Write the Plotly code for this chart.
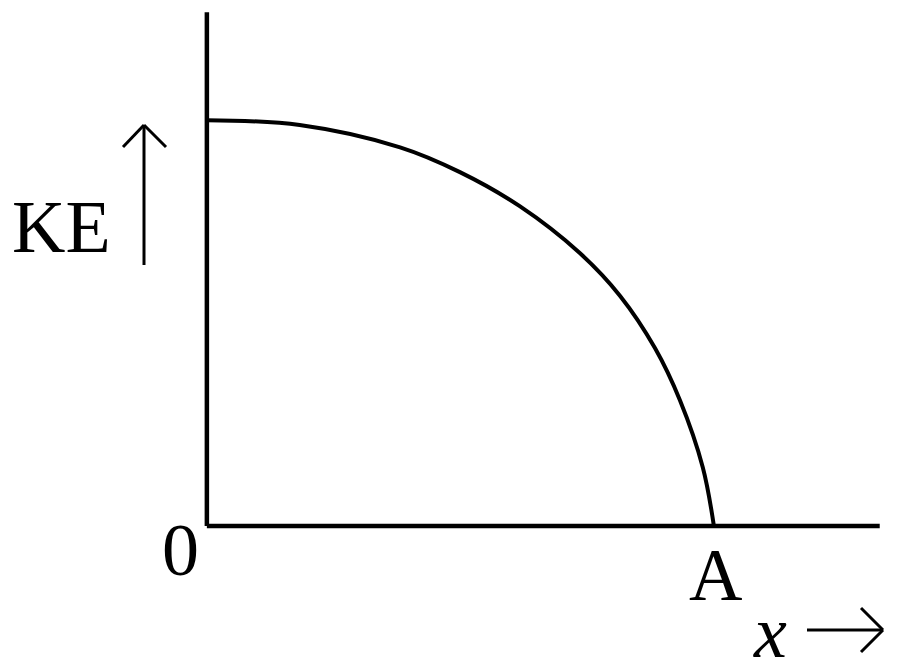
import plotly.graph_objects as go

# Curve data (x in units of A, KE in units of KE_max)
x_vals = [0.0, 0.183, 0.381, 0.499, 0.617, 0.736, 0.815, 0.884, 0.933, 0.978, 1.0]
ke_vals = [1.0, 0.988, 0.933, 0.872, 0.788, 0.672, 0.567, 0.438, 0.310, 0.145, 0.0]

origin_label = "0"
end_label = "A"
y_label = "KE"
x_label = "x"

W, H = 900, 671

def px(xp):
    return xp / W

def py(yp):
    return 1 - yp / H

fig = go.Figure()
fig.add_trace(go.Scatter(
    x=x_vals, y=ke_vals, mode="lines",
    line=dict(color="black", width=4, shape="spline", smoothing=1.0),
    hoverinfo="skip", showlegend=False,
))

line = dict(color="black", width=4.5)
thin = dict(color="black", width=3)
shapes = [
    # vertical axis
    dict(type="line", xref="x", yref="y", x0=0, x1=0, y0=0, y1=1.266, line=line),
    # horizontal axis
    dict(type="line", xref="x", yref="y", x0=0, x1=1.327, y0=0, y1=0, line=line),
    # up arrow next to KE
    dict(type="line", xref="paper", yref="paper", x0=px(144), x1=px(144), y0=py(265), y1=py(125), line=thin),
    dict(type="line", xref="paper", yref="paper", x0=px(123), x1=px(144), y0=py(147), y1=py(125), line=thin),
    dict(type="line", xref="paper", yref="paper", x0=px(166), x1=px(144), y0=py(147), y1=py(125), line=thin),
    # right arrow next to x
    dict(type="line", xref="paper", yref="paper", x0=px(807), x1=px(883), y0=py(630), y1=py(630), line=thin),
    dict(type="line", xref="paper", yref="paper", x0=px(861), x1=px(883), y0=py(608), y1=py(630), line=thin),
    dict(type="line", xref="paper", yref="paper", x0=px(861), x1=px(883), y0=py(652), y1=py(630), line=thin),
]

font = dict(family="Times New Roman, Liberation Serif, serif", size=74, color="black")
annotations = [
    dict(text=y_label, x=px(61), y=py(227), xref="paper", yref="paper",
         showarrow=False, font=font, xanchor="center", yanchor="middle"),
    dict(text=origin_label, x=px(180), y=py(550), xref="paper", yref="paper",
         showarrow=False, font=font, xanchor="center", yanchor="middle"),
    dict(text=end_label, x=px(715), y=py(575), xref="paper", yref="paper",
         showarrow=False, font=font, xanchor="center", yanchor="middle"),
    dict(text="<i>" + x_label + "</i>", x=px(770), y=py(632), xref="paper", yref="paper",
         showarrow=False, font=font, xanchor="center", yanchor="middle",
         height=62, valign="middle"),
]

fig.update_layout(
    width=W, height=H,
    margin=dict(l=0, r=0, t=0, b=0),
    paper_bgcolor="white", plot_bgcolor="white",
    xaxis=dict(range=[-0.408, 1.367], visible=False, fixedrange=True),
    yaxis=dict(range=[-0.357, 1.296], visible=False, fixedrange=True),
    shapes=shapes, annotations=annotations, showlegend=False,
)

fig.write_html(
    "out.html",
    config={"displayModeBar": False},
    post_script="document.body.style.margin='0';document.body.style.overflow='hidden';",
)
